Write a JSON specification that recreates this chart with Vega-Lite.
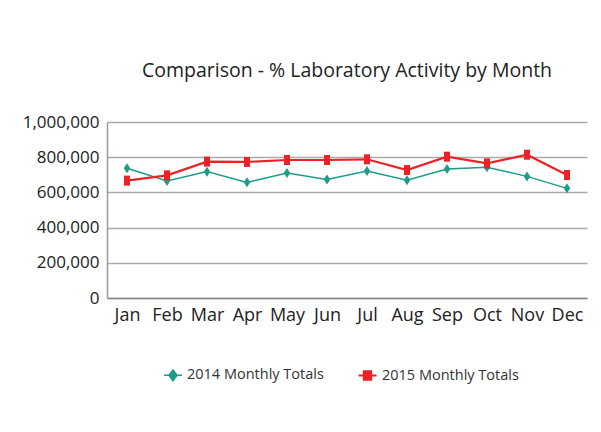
{
  "$schema": "https://vega.github.io/schema/vega-lite/v6.json",
  "width": 480,
  "height": 176,
  "autosize": {"type": "none"},
  "padding": {"left": 107, "top": 122, "right": 14, "bottom": 134},
  "background": "white",
  "title": {"text": "Comparison - % Laboratory Activity by Month", "fontSize": 19.5, "font": "Open Sans", "fontWeight": "normal", "color": "#222", "offset": 32, "anchor": "middle"},
  "config": {
    "view": {"stroke": null},
    "font": "Open Sans",
    "axis": {"labelFont": "Open Sans", "labelColor": "#222", "ticks": false, "title": null}
  },
  "data": {"values": [
    {"month": "Jan", "series": "2014 Monthly Totals", "value": 737000},
    {"month": "Feb", "series": "2014 Monthly Totals", "value": 665000},
    {"month": "Mar", "series": "2014 Monthly Totals", "value": 718000},
    {"month": "Apr", "series": "2014 Monthly Totals", "value": 657000},
    {"month": "May", "series": "2014 Monthly Totals", "value": 710000},
    {"month": "Jun", "series": "2014 Monthly Totals", "value": 674000},
    {"month": "Jul", "series": "2014 Monthly Totals", "value": 722000},
    {"month": "Aug", "series": "2014 Monthly Totals", "value": 669000},
    {"month": "Sep", "series": "2014 Monthly Totals", "value": 733000},
    {"month": "Oct", "series": "2014 Monthly Totals", "value": 743000},
    {"month": "Nov", "series": "2014 Monthly Totals", "value": 691000},
    {"month": "Dec", "series": "2014 Monthly Totals", "value": 623000},
    {"month": "Jan", "series": "2015 Monthly Totals", "value": 667000},
    {"month": "Feb", "series": "2015 Monthly Totals", "value": 697000},
    {"month": "Mar", "series": "2015 Monthly Totals", "value": 775000},
    {"month": "Apr", "series": "2015 Monthly Totals", "value": 773000},
    {"month": "May", "series": "2015 Monthly Totals", "value": 784000},
    {"month": "Jun", "series": "2015 Monthly Totals", "value": 784000},
    {"month": "Jul", "series": "2015 Monthly Totals", "value": 788000},
    {"month": "Aug", "series": "2015 Monthly Totals", "value": 727000},
    {"month": "Sep", "series": "2015 Monthly Totals", "value": 803000},
    {"month": "Oct", "series": "2015 Monthly Totals", "value": 765000},
    {"month": "Nov", "series": "2015 Monthly Totals", "value": 814000},
    {"month": "Dec", "series": "2015 Monthly Totals", "value": 699000}
  ]},
  "encoding": {
    "x": {"field": "month", "type": "ordinal", "sort": null,
      "scale": {"paddingInner": 0, "paddingOuter": 0},
      "axis": {"labelAngle": 0, "labelPadding": 8, "labelFontSize": 18, "domainColor": "#888", "domainWidth": 1.5, "grid": false}},
    "y": {"field": "value", "type": "quantitative",
      "scale": {"domain": [0, 1000000], "nice": false},
      "axis": {"values": [0, 200000, 400000, 600000, 800000, 1000000], "format": ",.0f", "labelFontSize": 17, "labelPadding": 8, "domainColor": "#999", "domainWidth": 1.5, "gridColor": "#aaa", "gridWidth": 1.5}},
    "color": {"field": "series", "type": "nominal",
      "scale": {"domain": ["2014 Monthly Totals", "2015 Monthly Totals"], "range": ["#1d9c88", "#ee2226"]},
      "legend": {"orient": "none", "legendX": 56, "legendY": 243, "direction": "horizontal", "title": null,
        "symbolSize": 324, "symbolStrokeWidth": 1.5, "labelFontSize": 14.5, "labelFont": "Open Sans", "labelColor": "#333",
        "columnPadding": 30, "labelOffset": 4,
        "encode": {"symbols": {"update": {
          "shape": {"signal": "datum.value === '2014 Monthly Totals' ? 'M-1,0H1M0,-0.6L0.45,0L0,0.6L-0.45,0Z' : 'M-1,0H1M-0.4,-0.45H0.4V0.45H-0.4Z'"},
          "fill": {"signal": "scale('color', datum.value)"},
          "stroke": {"signal": "scale('color', datum.value)"},
          "strokeWidth": {"value": 1.5}
        }}}}}
  },
  "layer": [
    {
      "mark": {"type": "line"},
      "encoding": {
        "strokeWidth": {"field": "series", "type": "nominal", "scale": {"domain": ["2014 Monthly Totals", "2015 Monthly Totals"], "range": [1.5, 2.2]}, "legend": null}
      }
    },
    {
      "transform": [{"filter": "datum.series === '2014 Monthly Totals'"}],
      "mark": {"type": "point", "filled": true, "opacity": 1, "size": 100, "shape": "M0,-1L0.65,0L0,1L-0.65,0Z"}
    },
    {
      "transform": [{"filter": "datum.series === '2015 Monthly Totals'"}],
      "mark": {"type": "point", "filled": true, "opacity": 1, "size": 100, "shape": "M-0.6,-1H0.6V1H-0.6Z"}
    }
  ]
}
